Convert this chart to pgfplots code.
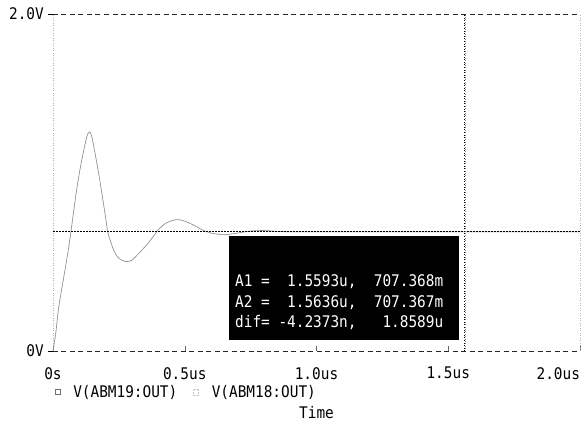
\documentclass[border=0pt]{standalone}
\usepackage{fontspec}
\setmonofont[FakeStretch=0.9]{DejaVu Sans Mono}
\usepackage{pgfplots}
\pgfplotsset{compat=1.18}
\newcommand\pf{\ttfamily\fontsize{16}{18}\selectfont}
\pgfplotstableread{
t v
0 0
0.01 0.10
0.02 0.24
0.03 0.34
0.04 0.43
0.06 0.62
0.076 0.80
0.09 0.96
0.105 1.10
0.118 1.20
0.13 1.28
0.138 1.30
0.146 1.28
0.16 1.17
0.178 1.01
0.197 0.82
0.209 0.70
0.23 0.60
0.25 0.55
0.277 0.53
0.30 0.54
0.32 0.57
0.35 0.62
0.376 0.67
0.40 0.72
0.43 0.76
0.47 0.78
0.50 0.77
0.53 0.75
0.565 0.72
0.60 0.70
0.65 0.69
0.70 0.70
0.75 0.712
0.80 0.715
0.85 0.71
0.90 0.707
1.0 0.707
1.5 0.707
2.0 0.707
}\abmdata
\begin{document}
\begin{tikzpicture}[x=1pt,y=1pt]
\useasboundingbox (-53,-79) rectangle (530,351);
\begin{axis}[
  at={(0,0)}, anchor=south west,
  scale only axis, width=527pt, height=337pt,
  xmin=0, xmax=2, ymin=0, ymax=2,
  separate axis lines,
  x axis line style={black!85, line width=0.7pt, dash pattern=on 5pt off 3.5pt},
  y axis line style={black!30, line width=0.5pt, dotted},
  xtick={0,0.5,1,1.5,2},
  xticklabels={0s,0.5us,1.0us,1.5us,\makebox[0pt][r]{2.0us}},
  ytick={0,2}, yticklabels={0V,2.0V},
  xtick pos=bottom, ytick pos=left,
  tick align=outside,
  major tick length=5pt,
  xtick style={black!60, line width=0.5pt, yshift=5pt},
  ytick style={black, line width=0.8pt},
  xticklabel style={font=\pf, anchor=north, inner sep=0pt, yshift=-11pt},
  yticklabel style={font=\pf, anchor=east, inner sep=0pt, xshift=-4pt},
  xlabel={Time},
  xlabel style={font=\pf, at={(axis description cs:0.5,-0.184)}, anchor=center},
  legend style={at={(axis description cs:0.003,-0.122)}, anchor=west, draw=none, fill=none,
    inner sep=0pt, font=\pf, legend columns=2, nodes={inner sep=0pt},
    /tikz/every odd column/.append style={column sep=13pt},
    /tikz/every even column/.append style={column sep=16pt}},
  legend cell align=left,
]
\addplot[black!50, line width=0.6pt, smooth,
  legend image code/.code={\draw[black!55, line width=0.5pt, fill=white] (0pt,-2.5pt) rectangle (5pt,2.5pt);}]
  table[x=t, y=v] {\abmdata};
\addlegendentry{V(ABM19:OUT)}
\addplot[black!25, line width=0.4pt, smooth, densely dotted,
  legend image code/.code={\draw[black!25, line width=0.5pt, densely dotted] (0pt,-3pt) rectangle (5pt,3pt);}]
  table[x=t, y=v] {\abmdata};
\addlegendentry{V(ABM18:OUT)}
% cursor lines
\addplot[forget plot, black, line width=0.8pt, dash pattern=on 2pt off 1pt] coordinates {(0,0.707) (2,0.707)};
\addplot[forget plot, black, line width=0.6pt, dotted] coordinates {(1.5593,0) (1.5593,2)};
\addplot[forget plot, black!50, line width=0.4pt, dotted] coordinates {(1.5636,0) (1.5636,2)};
% cursor readout box
\fill[black] (axis cs:0.668,0.065) rectangle (axis cs:1.541,0.682);
\node[anchor=base west, text=white, font=\pf, inner sep=0pt] at (axis cs:0.6907,0.380) {A1~=~~1.5593u,~~707.368m};
\node[anchor=base west, text=white, font=\pf, inner sep=0pt] at (axis cs:0.6907,0.261) {A2~=~~1.5636u,~~707.367m};
\node[anchor=base west, text=white, font=\pf, inner sep=0pt] at (axis cs:0.6907,0.142) {dif=~-4.2373n,~~~1.8589u};
\end{axis}
\end{tikzpicture}
\end{document}
